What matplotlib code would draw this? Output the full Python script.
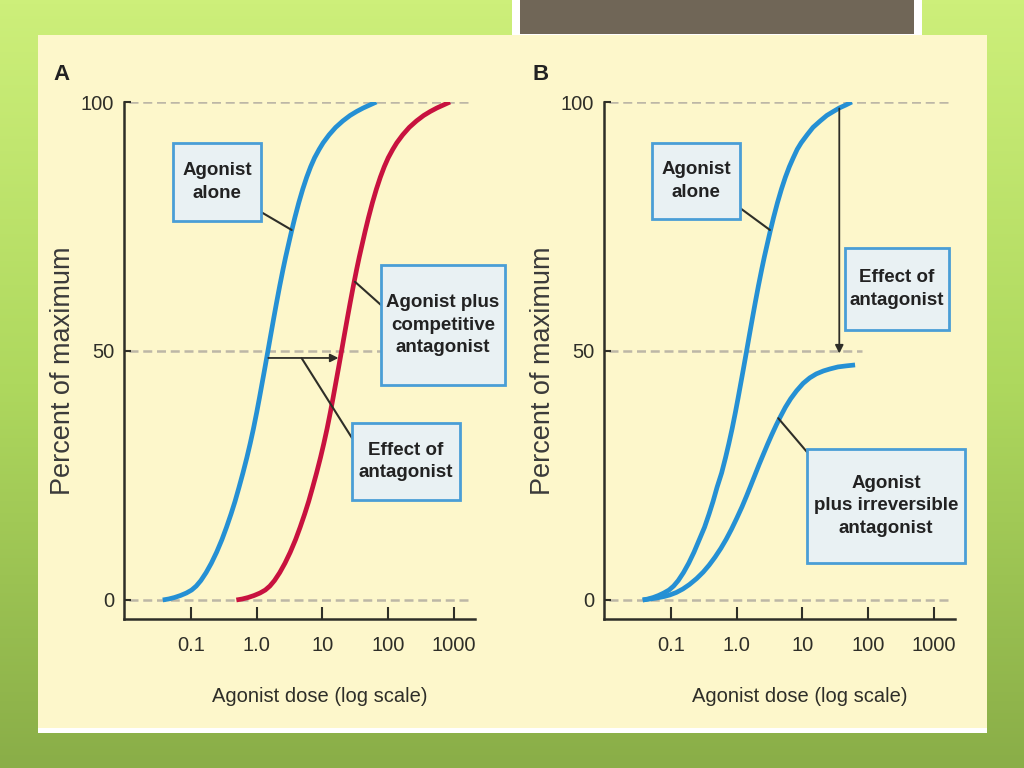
import numpy as np
import matplotlib
matplotlib.use('Agg')
import matplotlib.pyplot as plt
from matplotlib.patches import Rectangle
from matplotlib.colors import LinearSegmentedColormap

W, H = 1024, 768

# --- values: log10(dose) and percent of maximum ---
tick_doses = [0.1, 1.0, 10, 100, 1000]
tick_labels = ['0.1', '1.0', '10', '100', '1000']
y_ticks = [0, 50, 100]

a_pct = [0, 0.2, 0.5, 0.9, 1.4, 2.0, 2.8, 3.9, 5.5, 7.4,
         9.6, 12.1, 14.6, 17.3, 19.8, 22.6, 25.5, 28.6, 31.4, 34.4,
         37.7, 40.5, 43.4, 46.3, 50.0, 53.0, 56.7, 59.6, 63.1, 66.4,
         68.9, 71.8, 74.1, 76.8, 79.8, 82.5, 84.9, 87.0, 88.8, 90.5,
         91.8, 93.4, 94.9, 96.2, 97.3, 98.1, 98.8, 99.4, 100]

a_alone_log = [-1.43, -1.34, -1.25, -1.16, -1.07, -0.99, -0.92, -0.85, -0.77, -0.69,
               -0.61, -0.53, -0.46, -0.39, -0.33, -0.27, -0.21, -0.15, -0.10, -0.05,
               0.00, 0.04, 0.08, 0.12, 0.17, 0.21, 0.26, 0.30, 0.35, 0.40,
               0.44, 0.49, 0.53, 0.58, 0.64, 0.70, 0.76, 0.82, 0.88, 0.95,
               1.01, 1.10, 1.20, 1.31, 1.42, 1.52, 1.62, 1.72, 1.82]

a_comp_log = [-0.31, -0.22, -0.13, -0.04, 0.05, 0.13, 0.20, 0.27, 0.35, 0.43,
              0.51, 0.59, 0.66, 0.73, 0.79, 0.85, 0.91, 0.97, 1.02, 1.07,
              1.12, 1.16, 1.20, 1.24, 1.29, 1.33, 1.38, 1.42, 1.47, 1.52,
              1.56, 1.61, 1.65, 1.70, 1.76, 1.82, 1.88, 1.94, 2.00, 2.07,
              2.13, 2.22, 2.32, 2.43, 2.54, 2.64, 2.74, 2.84, 2.94]

b_alone_log = [-1.43, -1.35, -1.27, -1.19, -1.11, -1.03, -0.96, -0.89, -0.81, -0.73,
               -0.65, -0.57, -0.49, -0.42, -0.36, -0.30, -0.23, -0.17, -0.12, -0.07,
               -0.02, 0.02, 0.06, 0.10, 0.15, 0.19, 0.24, 0.28, 0.33, 0.38,
               0.42, 0.47, 0.51, 0.56, 0.62, 0.68, 0.74, 0.80, 0.86, 0.92,
               0.98, 1.07, 1.16, 1.27, 1.37, 1.47, 1.56, 1.66, 1.75]

b_irrev_log = [-1.43, -1.32, -1.22, -1.12, -1.02, -0.92, -0.82, -0.72, -0.61, -0.51,
               -0.42, -0.33, -0.24, -0.16, -0.08, 0.00, 0.08, 0.15, 0.22, 0.28,
               0.34, 0.40, 0.47, 0.53, 0.60, 0.66, 0.74, 0.82, 0.91, 1.01,
               1.11, 1.21, 1.32, 1.42, 1.54, 1.66, 1.80]
b_irrev_pct = [0, 0.2, 0.4, 0.65, 1.0, 1.5, 2.2, 3.1, 4.3, 5.6,
               7.0, 8.6, 10.4, 12.2, 14.2, 16.4, 18.7, 20.9, 23.2, 25.2,
               27.2, 29.1, 31.3, 33.1, 35.1, 36.7, 38.7, 40.4, 42.0, 43.5,
               44.6, 45.4, 46.0, 46.4, 46.8, 47.0, 47.2]

BLUE = '#2590d4'
RED = '#c8123f'
INK = '#2e2e28'
FONT = ['Liberation Sans', 'DejaVu Sans']

fig = plt.figure(figsize=(W / 100, H / 100), dpi=100)

# slide background
bg = fig.add_axes([0, 0, 1, 1])
bg.set_axis_off()
cmap = LinearSegmentedColormap.from_list('slide', ['#cdef7a', '#aed85e', '#8aae48'])
bg.imshow(np.linspace(0, 1, 256).reshape(-1, 1), cmap=cmap, aspect='auto', extent=(0, W, H, 0))
bg.set_xlim(0, W)
bg.set_ylim(H, 0)
bg.add_patch(Rectangle((512, 0), 410, 36, fc='white', ec='none'))
bg.add_patch(Rectangle((520, 0), 394, 34, fc='#706657', ec='none'))
bg.add_patch(Rectangle((38, 35), 949, 698, fc='white', ec='none'))
bg.add_patch(Rectangle((38, 35), 949, 693, fc='#fdf7cb', ec='none'))


def make_axes(left_px):
    ax = fig.add_axes([left_px / W, 1 - 619 / H, 351 / W, (619 - 102) / H])
    ax.set_facecolor('none')
    ax.set_xscale('log')
    ax.set_xlim(10 ** -2.019, 10 ** 3.32)
    ax.set_ylim(-3.82, 100)
    for s in ['top', 'right']:
        ax.spines[s].set_visible(False)
    for s in ['left', 'bottom']:
        ax.spines[s].set_color(INK)
        ax.spines[s].set_linewidth(1.8)
    ax.set_xticks(tick_doses)
    ax.set_xticklabels(tick_labels)
    ax.xaxis.set_minor_locator(matplotlib.ticker.NullLocator())
    ax.set_yticks(y_ticks)
    ax.tick_params(axis='x', direction='in', length=9, width=1.5, color=INK, pad=12,
                   labelsize=14.5, labelcolor=INK)
    ax.tick_params(axis='y', direction='in', length=5, width=1.5, color=INK, pad=7,
                   labelsize=14.5, labelcolor=INK)
    for lab in ax.get_xticklabels() + ax.get_yticklabels():
        lab.set_family(FONT)
    return ax


def grid_line(ax, y, xmax):
    ax.axhline(y, xmin=0.015, xmax=xmax, color='#bdb7a6', lw=1.8, dashes=(3.6, 1.9), zorder=1)


def box(ax, x0, y0, x1, y1, text):
    ax.add_patch(Rectangle((x0, y0), x1 - x0, y1 - y0, transform=bg.transData, fc='#e9f1f3',
                           ec='#4a9ed6', lw=2, zorder=6, clip_on=False))
    ax.text((x0 + x1) / 2, (y0 + y1) / 2, text, transform=bg.transData, ha='center', va='center',
            fontsize=13.5, fontweight='bold', family=FONT, color='#222222', linespacing=1.45,
            zorder=7, clip_on=False)


def leader(ax, dose, pct, px, py):
    ax.annotate('', xy=(dose, pct), xycoords='data', xytext=(px, py), textcoords=bg.transData,
                arrowprops=dict(arrowstyle='-', color=INK, lw=1.5, shrinkA=0, shrinkB=0), zorder=5)


def arrow(ax, start, end):
    ax.annotate('', xy=end, xycoords='data', xytext=start, textcoords='data',
                arrowprops=dict(arrowstyle='-|>', color=INK, lw=1.3, shrinkA=0, shrinkB=0,
                                mutation_scale=12), zorder=5)


def curve(ax, logs, pcts, color):
    ax.plot(10 ** np.array(logs), pcts, color=color, lw=3.4, solid_joinstyle='round',
            solid_capstyle='butt', zorder=3)


# ---------- panel A ----------
axA = make_axes(124)
for yv in y_ticks:
    grid_line(axA, yv, 0.98)
curve(axA, a_alone_log, a_pct, BLUE)
curve(axA, a_comp_log, a_pct, RED)
arrow(axA, (1.5, 48.6), (17.5, 48.6))
box(axA, 173, 143, 261, 221, 'Agonist\nalone')
leader(axA, 3.4, 74.3, 261, 212)
box(axA, 381, 265, 505, 385, 'Agonist plus\ncompetitive\nantagonist')
leader(axA, 31.2, 63.9, 381, 305)
box(axA, 352, 423, 460, 500, 'Effect of\nantagonist')
leader(axA, 4.8, 48.6, 352, 438)

# ---------- panel B ----------
axB = make_axes(604)
grid_line(axB, 100, 0.98)
grid_line(axB, 50, 0.735)
grid_line(axB, 0, 0.98)
curve(axB, b_alone_log, a_pct, BLUE)
curve(axB, b_irrev_log, b_irrev_pct, BLUE)
arrow(axB, (36.3, 98.7), (36.3, 49.5))
box(axB, 652, 143, 740, 219, 'Agonist\nalone')
leader(axB, 3.2, 74.3, 740, 208)
box(axB, 845, 248, 949, 330, 'Effect of\nantagonist')
box(axB, 807, 449, 965, 563, 'Agonist\nplus irreversible\nantagonist')
leader(axB, 4.28, 36.5, 807, 452)

# panel letters and axis titles
for letter, lx in [('A', 62), ('B', 541)]:
    bg.text(lx, 74, letter, ha='center', va='center', fontsize=16, fontweight='bold',
            family=FONT, color='#222222')
for cx in [320, 800]:
    bg.text(cx, 697, 'Agonist dose (log scale)', ha='center', va='center', fontsize=14.5,
            family=FONT, color=INK)
for cx in [63, 543]:
    bg.text(cx, 371, 'Percent of maximum', ha='center', va='center', rotation=90,
            fontsize=19.5, family=FONT, color='#3a3a3a')

fig.savefig('out.png', dpi=100)
